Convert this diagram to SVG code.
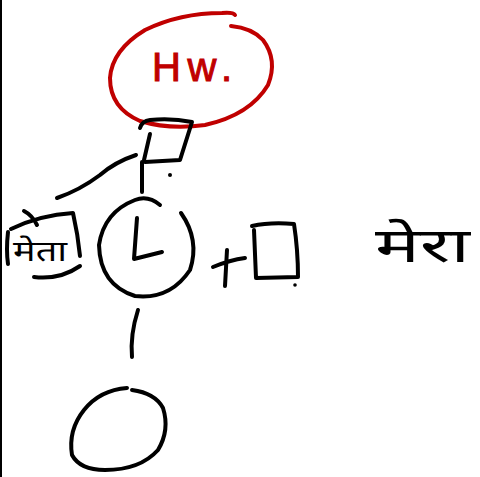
<svg xmlns="http://www.w3.org/2000/svg" width="480" height="477" viewBox="0 0 480 477">
<style>
.ink{fill:none;stroke:#000;stroke-width:4;stroke-linecap:round;stroke-linejoin:round}
.red{fill:none;stroke:#c00000;stroke-width:4;stroke-linecap:round;stroke-linejoin:round}
.t{font-family:"Noto Sans","Liberation Sans",sans-serif;fill:#000}
</style>
<rect width="480" height="477" fill="#fff"/>
<line x1="1" y1="0" x2="1" y2="477" stroke="#000" stroke-width="2"/>
<g id="hw">
<path class="red" d="M235,15 Q233,12 222,13 Q180,13 145,30 Q112,50 110,78 Q110,108 140,121 Q170,130 205,125 Q250,115 268,85 Q278,60 263,40 Q252,28 231,26"/>
<text x="152" y="81" font-family="Liberation Sans, sans-serif" font-size="40" fill="#c00000" stroke="#c00000" stroke-width="1" textLength="80" lengthAdjust="spacing">Hw.</text>
</g>
<g id="box-top">
<path class="ink" d="M140,128 Q142,121 150,120 Q172,118 192,122 L180,160 L145,162"/>
<path class="ink" d="M150,134 L144,160"/>
<circle cx="170" cy="175" r="2" fill="#000"/>
</g>
<g id="label-left">
<path class="ink" d="M8,232 Q6,250 8,264 M11,229 Q40,215 73,213 Q78,235 80,256 M80,266 Q60,280 34,277 M24,211 Q32,215 37,225"/>
<text class="t" x="13" y="261" font-size="29" textLength="54" lengthAdjust="spacingAndGlyphs">मेता</text>
</g>
<g id="circle-L">
<path class="ink" d="M160,205 Q148,195 135,200 Q104,212 99,245 Q100,285 135,296 Q170,300 190,270 Q200,240 181,213"/>
<path class="ink" d="M137,218 L134,259 L162,252"/>
</g>
<g id="plus-box">
<path class="ink" d="M213,267 Q230,260 245,258 M227,250 L225,286"/>
<path class="ink" d="M252,226 Q270,222 294,224 Q298,250 298,277 L256,278 L254,230"/>
<circle cx="295" cy="285" r="1.8" fill="#000"/>
</g>
<g id="label-right">
<text class="t" x="375" y="262" font-size="48" textLength="95" lengthAdjust="spacingAndGlyphs">मेरा</text>
</g>
<g id="circle-bottom">
<path class="ink" d="M127,388 Q100,390 84,410 Q68,430 72,455 Q80,470 105,470 Q140,470 158,450 Q170,430 163,408 Q155,393 132,390"/>
</g>
<g id="connectors">
<path class="ink" d="M142,162 L142,192"/>
<path class="ink" d="M136,155 Q115,162 100,175 Q80,190 57,198"/>
<path class="ink" d="M138,310 Q130,335 132,357"/>
</g>
</svg>
